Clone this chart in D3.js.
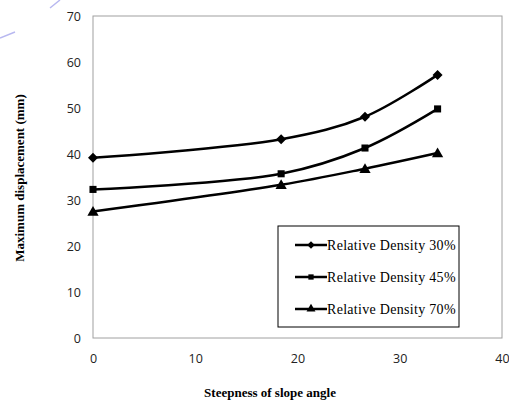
<!DOCTYPE html>
<html lang="en">
<head>
<meta charset="UTF-8" />
<title>Maximum displacement</title>
<script src="https://d3js.org/d3.v7.js"></script>
<style>
    body { margin: 0; background: #fff; }
</style>
</head>
<body>
<script>
    // data
    var angles = [0, 18.4, 26.6, 33.7];
    var rd30 = [39.2, 43.2, 48.1, 57.2];
    var rd45 = [32.3, 35.7, 41.3, 49.8];
    var rd70 = [27.5, 33.3, 36.8, 40.2];
    var seriesNames = ["Relative Density 30%", "Relative Density 45%", "Relative Density 70%"];
    var markers = [d3.symbolSquare, d3.symbolSquare, d3.symbolTriangle];
    var markerTurn = [45, 0, 0];
    var xTicks = [0, 10, 20, 30, 40];
    var yTicks = [0, 10, 20, 30, 40, 50, 60, 70];

    var w = 509, h = 401;
    var plotLeft = 93, plotRight = 502, plotTop = 16, plotBottom = 338;

    var svg = d3.select("body").append("svg")
        .attr("width", w)
        .attr("height", h);

    // faint blue strokes in the corner of the scan
    svg.append("line").attr("x1", 50).attr("y1", 8).attr("x2", 60).attr("y2", 0)
        .attr("stroke", "#b8b8f0").attr("stroke-width", 1.5);
    svg.append("line").attr("x1", 0).attr("y1", 38).attr("x2", 15).attr("y2", 32)
        .attr("stroke", "#b8b8f0").attr("stroke-width", 1.5);

    var x = d3.scaleLinear().domain([0, 40]).range([plotLeft, plotRight]);
    var y = d3.scaleLinear().domain([0, 70]).range([plotBottom, plotTop]);

    // plot frame
    svg.append("rect")
        .attr("x", plotLeft).attr("y", plotTop)
        .attr("width", plotRight - plotLeft).attr("height", plotBottom - plotTop)
        .attr("fill", "none").attr("stroke", "#a0a0a0").attr("stroke-width", 1);

    var xAxis = svg.append("g")
        .attr("transform", "translate(0," + plotBottom + ")")
        .call(d3.axisBottom(x).tickValues(xTicks).tickSize(0).tickPadding(16));
    var yAxis = svg.append("g")
        .attr("transform", "translate(" + plotLeft + ",0)")
        .call(d3.axisLeft(y).tickValues(yTicks).tickSize(0).tickPadding(12));
    [xAxis, yAxis].forEach(function(a) {
        a.select(".domain").remove();
        a.selectAll("text")
            .attr("font-family", "'Open Sans', sans-serif")
            .attr("font-size", 12.5)
            .attr("fill", "#222");
    });

    var line = d3.line()
        .x(function(d) { return x(d[0]); })
        .y(function(d) { return y(d[1]); })
        .curve(d3.curveCatmullRom.alpha(0.5));

    var all = [rd30, rd45, rd70];
    all.forEach(function(vals, k) {
        var pts = angles.map(function(a, i) { return [a, vals[i]]; });
        svg.append("path")
            .attr("d", line(pts))
            .attr("fill", "none")
            .attr("stroke", "#000")
            .attr("stroke-width", 2.5);
        svg.selectAll(null)
            .data(pts)
            .enter()
            .append("path")
            .attr("d", d3.symbol().type(markers[k]).size(k == 2 ? 55 : 50))
            .attr("transform", function(d) {
                return "translate(" + x(d[0]) + "," + (y(d[1]) + (k == 2 ? 1 : 0)) + ") rotate(" + markerTurn[k] + ")";
            })
            .attr("fill", "#000");
    });

    // legend
    var lg = svg.append("g");
    lg.append("rect")
        .attr("x", 278).attr("y", 226)
        .attr("width", 181).attr("height", 101)
        .attr("fill", "#fff").attr("stroke", "#000").attr("stroke-width", 1);
    seriesNames.forEach(function(name, k) {
        var ly = 245 + k * 32;
        lg.append("line")
            .attr("x1", 295).attr("x2", 327)
            .attr("y1", ly).attr("y2", ly)
            .attr("stroke", "#000").attr("stroke-width", 2.5);
        lg.append("path")
            .attr("d", d3.symbol().type(markers[k]).size(k == 2 ? 35 : 28))
            .attr("transform", "translate(311," + ly + ") rotate(" + markerTurn[k] + ")")
            .attr("fill", "#000");
        lg.append("text")
            .attr("x", 327).attr("y", ly)
            .attr("dy", "0.35em")
            .attr("font-family", "'Liberation Serif', 'Times New Roman', serif")
            .attr("font-size", 14)
            .attr("letter-spacing", 0.3)
            .text(name);
    });

    // axis titles
    svg.append("text")
        .attr("x", 270).attr("y", 397)
        .attr("text-anchor", "middle")
        .attr("font-family", "'Liberation Serif', 'Times New Roman', serif")
        .attr("font-weight", "bold")
        .attr("font-size", 13)
        .text("Steepness of slope angle");
    svg.append("text")
        .attr("transform", "translate(24,178) rotate(-90)")
        .attr("text-anchor", "middle")
        .attr("font-family", "'Liberation Serif', 'Times New Roman', serif")
        .attr("font-weight", "bold")
        .attr("font-size", 13)
        .text("Maximum displacement (mm)");
</script>
</body>
</html>
